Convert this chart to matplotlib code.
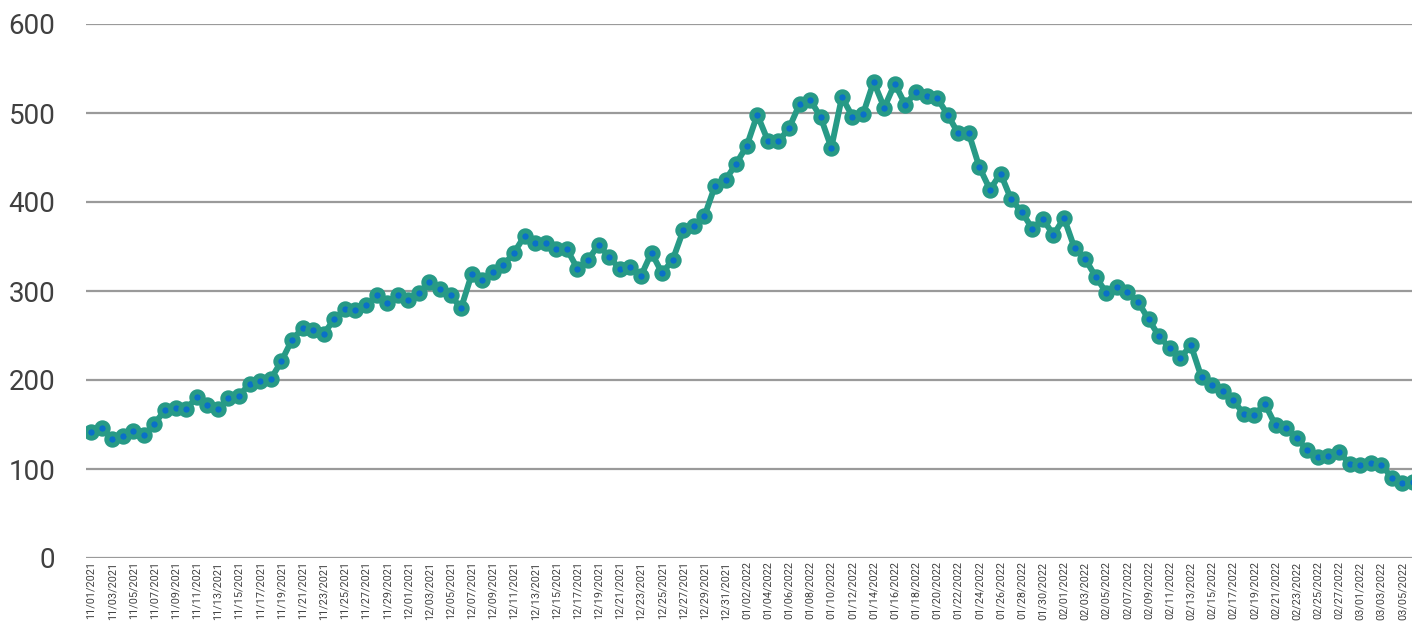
import matplotlib.pyplot as plt
import pandas as pd

# daily values, 11/01/2021 .. 03/06/2022
START_DATE = "2021-11-01"
values = [
    142, 146, 134, 137, 143, 138, 151, 166, 169, 167,
    181, 172, 167, 180, 182, 196, 199, 201, 221, 245,
    258, 256, 252, 268, 280, 279, 284, 295, 287, 295,
    290, 298, 310, 302, 295, 281, 319, 312, 321, 329,
    343, 362, 354, 354, 347, 347, 325, 335, 352, 338,
    325, 327, 317, 343, 320, 335, 368, 373, 384, 418,
    425, 443, 463, 498, 469, 468, 483, 510, 515, 495,
    461, 518, 496, 499, 535, 506, 533, 509, 524, 519,
    517, 498, 477, 477, 439, 414, 432, 403, 389, 370,
    381, 363, 382, 348, 336, 316, 298, 305, 299, 288,
    268, 249, 236, 225, 239, 203, 194, 188, 177, 162,
    161, 173, 149, 146, 135, 121, 113, 115, 119, 106,
    105, 107, 105, 90, 84, 85,
]
y_ticks = [0, 100, 200, 300, 400, 500, 600]

dates = pd.date_range(START_DATE, periods=len(values), freq="D")
tick_pos = list(range(0, len(values), 2))
tick_labels = [dates[i].strftime("%m/%d/%Y") for i in tick_pos]

plt.rcParams["font.family"] = ["Roboto", "DejaVu Sans"]

fig = plt.figure(figsize=(14.12, 6.3), dpi=100)
ax = fig.add_axes([86 / 1412, 72 / 630, 1326 / 1412, 534 / 630])

# 線とマーカー
ax.plot(range(len(values)), values, color="#279a86", linewidth=4.3,
        marker="o", markersize=8.2, markerfacecolor="#0a70c8",
        markeredgecolor="#279a86", markeredgewidth=3.6, zorder=3)

ax.set_ylim(0, 600)
ax.set_xlim(-0.47, 124.9)
ax.set_yticks(y_ticks)
ax.set_xticks(tick_pos)
ax.set_xticklabels(tick_labels, rotation=90, fontsize=7.8, color="#404040")
ax.tick_params(axis="y", length=0, pad=22, labelsize=20, labelcolor="#404040")
ax.tick_params(axis="x", length=0, pad=2.5)

ax.grid(axis="y", color="#9a9a9a", linewidth=1.6)
ax.set_axisbelow(True)
for s in ax.spines.values():
    s.set_visible(False)

fig.savefig("out.png", dpi=100)
